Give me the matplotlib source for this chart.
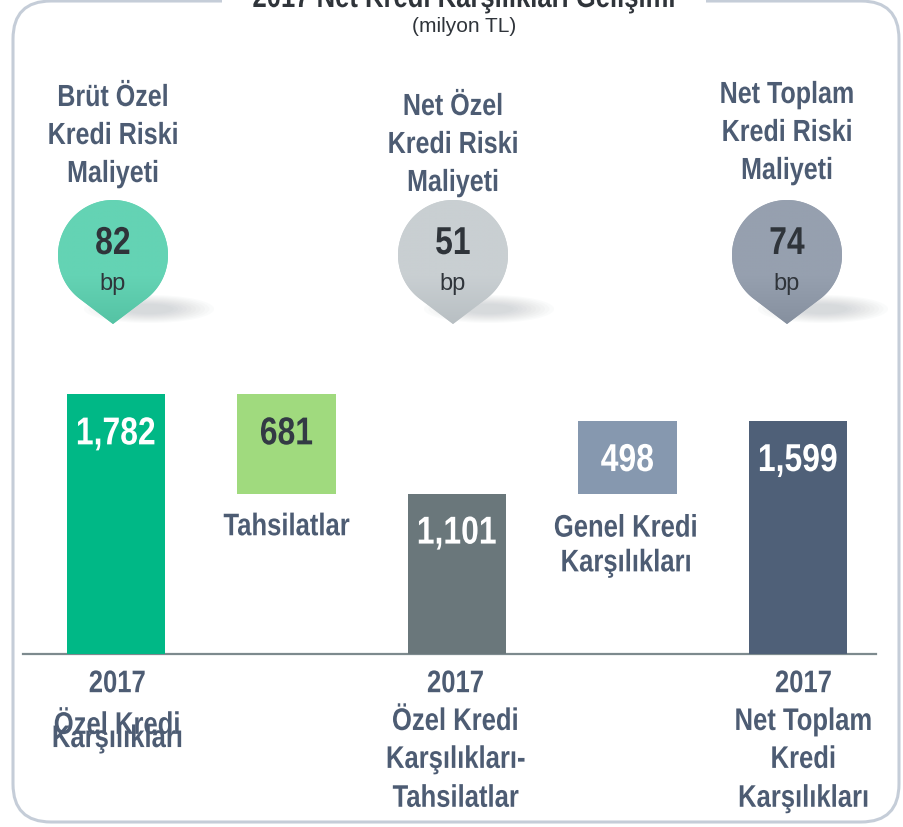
import numpy as np
import matplotlib.pyplot as plt
from matplotlib.patches import FancyBboxPatch, Polygon, Ellipse, Rectangle
from matplotlib.colors import LinearSegmentedColormap
from matplotlib.patheffects import AbstractPathEffect
from matplotlib.transforms import Affine2D

# waterfall steps (milyon TL)
step_lines = [
    ['2017', 'Özel Kredi', 'Karşılıkları'],
    ['Tahsilatlar'],
    ['2017', 'Özel Kredi', 'Karşılıkları-', 'Tahsilatlar'],
    ['Genel Kredi', 'Karşılıkları'],
    ['2017', 'Net Toplam', 'Kredi', 'Karşılıkları'],
]
amounts = [1782, 681, 1101, 498, 1599]
kinds = ['total', 'minus', 'total', 'plus', 'total']
bar_colors = ['#00B886', '#A0DA7E', '#6A777B', '#8698AF', '#4F6078']
value_colors = ['white', '#333A44', 'white', 'white', 'white']

# cost of risk bubbles (bp)
cost_titles = [
    ['Brüt Özel', 'Kredi Riski', 'Maliyeti'],
    ['Net Özel', 'Kredi Riski', 'Maliyeti'],
    ['Net Toplam', 'Kredi Riski', 'Maliyeti'],
]
cost_bp = [82, 51, 74]
bubble_colors = ['#64D3B4', '#C9CFD2', '#96A0AF']
bubble_dark = ['#55C3A4', '#B8BFC3', '#86909F']

title = '2017 Net Kredi Karşılıkları Gelişimi'
subtitle = '(milyon TL)'


class Squeeze(AbstractPathEffect):
    """Draw text glyphs narrowed horizontally around their own centre."""

    def __init__(self, sx=0.82):
        super().__init__()
        self.sx = sx

    def draw_path(self, renderer, gc, tpath, affine, rgbFace=None):
        if len(tpath.vertices):
            mid = (tpath.vertices[:, 0].min() + tpath.vertices[:, 0].max()) / 2
            affine = Affine2D().translate(-mid, 0).scale(self.sx, 1).translate(mid, 0) + affine
        renderer.draw_path(gc, tpath, affine, rgbFace)


FONT = 'Liberation Sans'
NARROW = dict(family=FONT, weight='bold', path_effects=[Squeeze(0.82)])
SLATE = '#4D5C73'
DARK = '#2F343A'

fig = plt.figure(figsize=(9.04, 8.28), dpi=100)

# pixel-space layer for frame, headings and bubbles
deco = fig.add_axes([0, 0, 1, 1])
deco.set_xlim(0, 904)
deco.set_ylim(828, 0)
deco.axis('off')

deco.add_patch(FancyBboxPatch((13, 2), 886, 821,
                              boxstyle='round,pad=0,rounding_size=38',
                              fc='none', ec='#C5CDD8', lw=2.2, zorder=1))
deco.add_patch(Rectangle((222, -5), 484, 14, fc='white', ec='none', zorder=2))
deco.text(464, 8, title, ha='center', va='baseline', fontsize=22.5,
          color=DARK, zorder=3, **NARROW)
deco.text(464, 27, subtitle, ha='center', va='center', fontsize=15,
          family=FONT, color=DARK, zorder=3)

bubble_x = [113, 453, 787]
title_top = [107, 116, 104]
cy, r, tip = 256, 55, 325
for cx, lines, top, v, c, cd in zip(bubble_x, cost_titles, title_top, cost_bp,
                                    bubble_colors, bubble_dark):
    for i, ln in enumerate(lines):
        deco.text(cx, top + 38 * i, ln, ha='center', va='baseline',
                  fontsize=22, color=SLATE, **NARROW)

    # soft shadow under the tip
    for j in range(10):
        deco.add_patch(Ellipse((cx + 36, 310), 130 - 9 * j, 28 - 2 * j,
                               fc='#7E868D', ec='none', alpha=0.03, zorder=2))

    phi = np.arccos(r / (tip - cy))
    a = np.linspace(np.pi / 2 + phi, np.pi / 2 - phi + 2 * np.pi, 200)
    pts = np.column_stack([cx + r * np.cos(a), cy + r * np.sin(a)])
    pts = np.vstack([pts, [cx, tip]])
    drop = Polygon(pts, closed=True, fc=c, ec='none', zorder=3)
    deco.add_patch(drop)
    cmap = LinearSegmentedColormap.from_list('drop', [(0, c), (0.62, c), (1, cd)])
    grad = deco.imshow(np.linspace(0, 1, 200)[:, None], cmap=cmap, aspect='auto',
                       extent=(cx - r, cx + r, tip, cy - r), zorder=4)
    grad.set_clip_path(drop)
    deco.set_xlim(0, 904)
    deco.set_ylim(828, 0)

    deco.text(cx, 255, str(v), ha='center', va='baseline', fontsize=28,
              color=DARK, zorder=5, **NARROW)
    deco.text(cx, 290, 'bp', ha='center', va='baseline', fontsize=17,
              family=FONT, color=DARK, zorder=5)

# waterfall bars in data units
ax = fig.add_axes([0, 0, 1, 1], zorder=2)
ax.patch.set_alpha(0)
ax.set_xlim(-116 / 170.5, (904 - 116) / 170.5)
ax.set_ylim(-173 / 0.1457, 655 / 0.1457)
ax.axis('off')

running = 0
bottoms = []
for v, kind in zip(amounts, kinds):
    if kind == 'total':
        bottoms.append(0)
        running = v
    elif kind == 'minus':
        running -= v
        bottoms.append(running)
    else:
        bottoms.append(running)
        running += v

x = np.arange(len(amounts))
ax.axhline(0, xmin=23 / 904, xmax=876 / 904, color='#7D8A8E', lw=1.6, zorder=1)
ax.bar(x, amounts, bottom=bottoms, width=0.575, color=bar_colors, zorder=2)

for i, (v, b) in enumerate(zip(amounts, bottoms)):
    ax.annotate(f'{v:,}', xy=(i, b + v), xytext=(0, -36), textcoords='offset points',
                ha='center', va='baseline', fontsize=28,
                color=value_colors[i], zorder=3, **NARROW)

# captions: below the floating bars, under the axis for the totals
gaps = {0: [27.5, 57.5, 67], 2: [27.5, 54.7, 82, 110], 4: [27.5, 54.7, 82, 110],
        1: [30, 55], 3: [31, 56]}
shift = {0: 1, 1: 0, 2: -1, 3: -1, 4: 4}
for i, lines in enumerate(step_lines):
    anchor = 0 if kinds[i] == 'total' else bottoms[i]
    for ln, g in zip(lines, gaps[i]):
        ax.annotate(ln, xy=(i, anchor), xytext=(shift[i], -g), textcoords='offset points',
                    ha='center', va='baseline', fontsize=22.5,
                    color=SLATE, zorder=3, **NARROW)

fig.savefig('out.png', dpi=100)
